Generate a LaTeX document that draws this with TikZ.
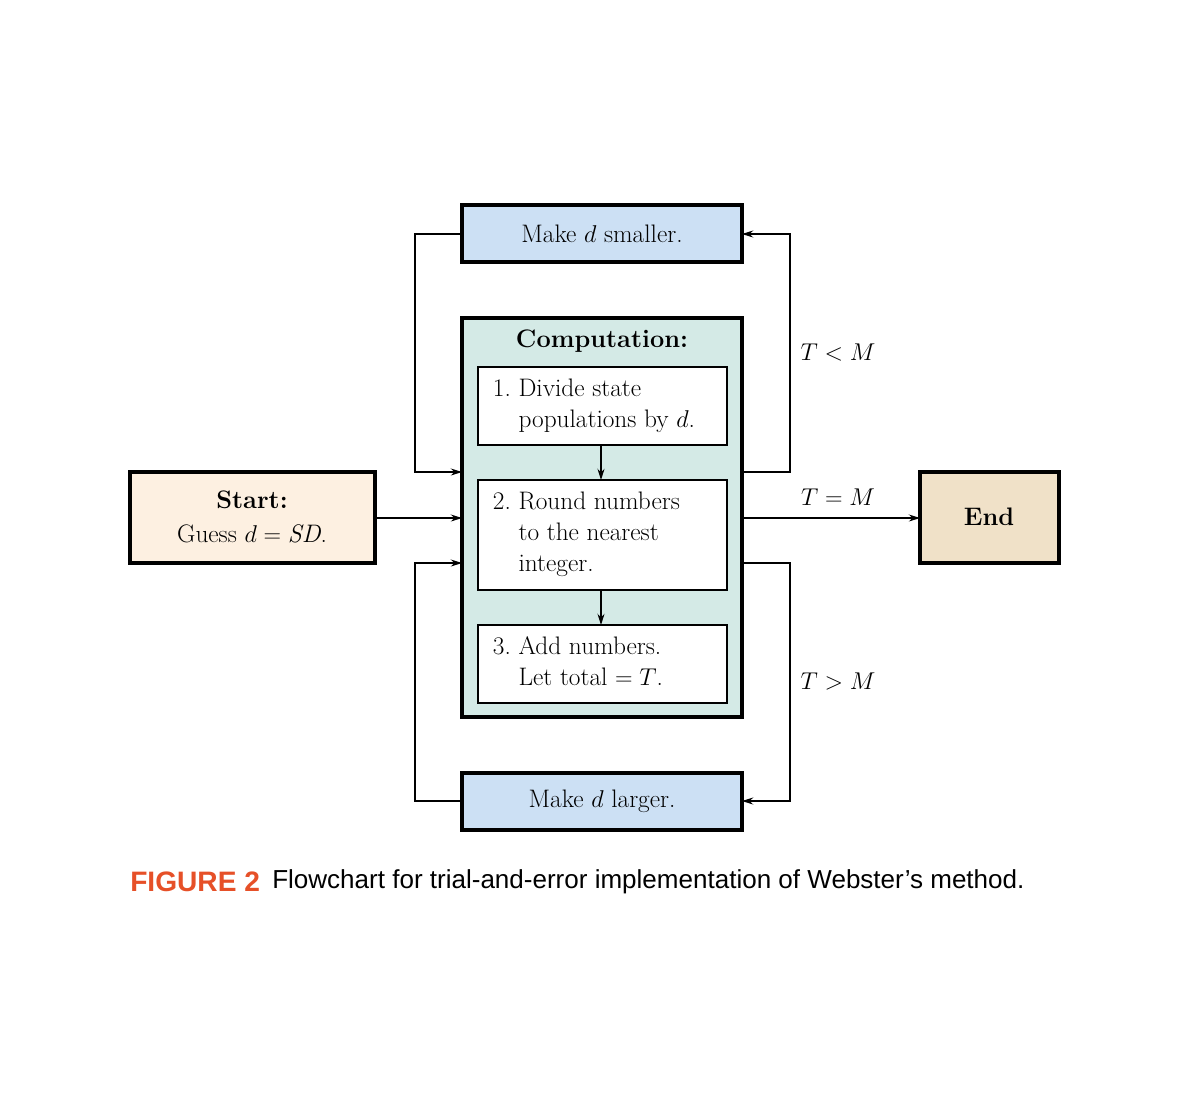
\documentclass[tikz,border=0pt]{standalone}
\usepackage{fontspec}
\newfontfamily\capfont{Liberation Sans}
\usetikzlibrary{arrows.meta}
\definecolor{blu}{RGB}{204,224,244}
\definecolor{comp}{RGB}{212,234,230}
\definecolor{startc}{RGB}{253,240,225}
\definecolor{endc}{RGB}{240,225,200}
\definecolor{figc}{RGB}{230,80,40}
\begin{document}
\begin{tikzpicture}[x=0.025cm,y=-0.025cm,
  box/.style={draw,line width=2.2pt,inner sep=0},
  ibox/.style={draw,line width=1pt,fill=white,inner sep=0},
  txt/.style={font=\fontsize{18}{22}\selectfont},
  ln/.style={line width=0.8pt},
  arr/.style={ln,-{Stealth[length=8pt,width=5pt]}}]
\useasboundingbox (0,0) rectangle (1200,1100);
\draw[box,fill=blu] (462,205) rectangle (742,262);
\node[txt] (small) at (602,234) {Make $d$ smaller.};
\draw[box,fill=comp] (462,318) rectangle (742,717);
\node[txt] (comp) at (602,341) {\bfseries Computation:};
\draw[ibox] (478,367) rectangle (727,445);
\draw[ibox] (478,480) rectangle (727,590);
\draw[ibox] (478,625) rectangle (727,703);
\node[txt,anchor=north west,align=left] (b1) at (488,374) {1.\ Divide state\\\phantom{1.\ }populations by $d$.};
\node[txt,anchor=north west,align=left] (b2) at (488,487) {2.\ Round numbers\\\phantom{2.\ }to the nearest\\\phantom{2.\ }integer.};
\node[txt,anchor=north west,align=left] (b3) at (488,632) {3.\ Add numbers.\\\phantom{3.\ }Let total $=T$.};
\draw[box,fill=startc] (130,472) rectangle (375,563);
\node[txt,align=center] (start) at (252,517) {\bfseries Start:\\[2pt]Guess $d=\mathit{SD}$.};
\draw[box,fill=endc] (920,472) rectangle (1059,563);
\node[txt] (end) at (989,517) {\bfseries End};
\draw[box,fill=blu] (462,773) rectangle (742,830);
\node[txt] (large) at (602,801) {Make $d$ larger.};
\coordinate (i1) at (601,445); \coordinate (i2) at (601,480);
\coordinate (i3) at (601,590); \coordinate (i4) at (601,625);
\draw[arr] (i1) -- (i2);
\draw[arr] (i3) -- (i4);
\draw[arr] (375,518) -- (462,518);
\draw[arr] (742,518) -- (920,518);
\node[txt] (teq) at (838,497) {$T=M$};
\draw[arr] (742,472) -- (790,472) -- (790,234) -- (742,234);
\node[txt] (tlt) at (838,353) {$T<M$};
\draw[arr] (462,234) -- (415,234) -- (415,472) -- (462,472);
\draw[arr] (742,563) -- (790,563) -- (790,801) -- (742,801);
\node[txt] (tgt) at (838,682) {$T>M$};
\draw[arr] (462,801) -- (415,801) -- (415,563) -- (462,563);
\node[anchor=west,inner sep=0,text=figc] (fig) at (130,882) {\capfont\bfseries\fontsize{20}{24}\selectfont FIGURE 2};
\node[anchor=west,inner sep=0] (cap) at (272,882) {\resizebox{18.8cm}{!}{\capfont\fontsize{20}{24}\selectfont Flowchart for trial-and-error implementation of Webster’s method.}};
\end{tikzpicture}
\end{document}
